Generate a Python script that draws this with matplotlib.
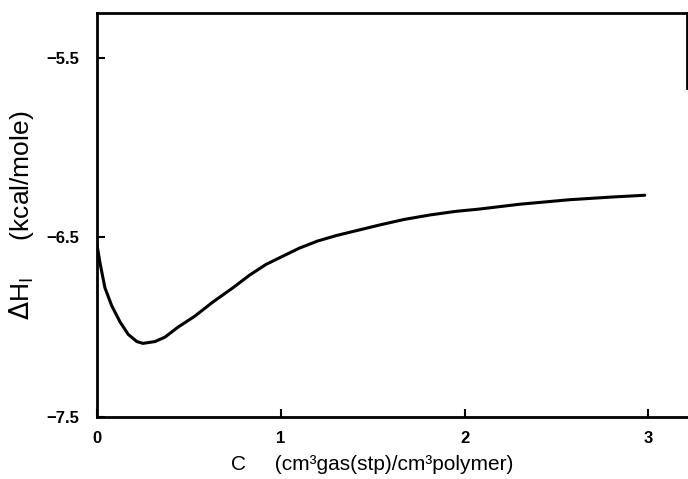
import matplotlib
matplotlib.use("Agg")
import matplotlib.pyplot as plt

# concentration C (cm3 gas(stp)/cm3 polymer) and interaction enthalpy (kcal/mole)
conc = [0.0, 0.016, 0.043, 0.08, 0.125, 0.17, 0.217, 0.25, 0.315, 0.37, 0.44, 0.53,
        0.63, 0.74, 0.83, 0.92, 1.0, 1.10, 1.20, 1.30, 1.42, 1.54, 1.67, 1.81, 1.95,
        2.08, 2.30, 2.57, 2.80, 2.98]
dh = [-6.54, -6.64, -6.78, -6.88, -6.97, -7.04, -7.08, -7.09, -7.08, -7.055, -7.00, -6.94,
      -6.86, -6.78, -6.71, -6.65, -6.61, -6.56, -6.52, -6.49, -6.46, -6.43, -6.40, -6.375,
      -6.355, -6.342, -6.315, -6.29, -6.275, -6.265]

xticks = [0, 1, 2, 3]
yticks = [-7.5, -6.5, -5.5]

plt.rcParams["font.family"] = ["Liberation Sans", "DejaVu Sans"]

fig = plt.figure(figsize=(6.88, 4.79), dpi=100)
ax = fig.add_axes([97 / 688, 62 / 479, 590 / 688, 404 / 479])

ax.plot(conc, dh, color="black", lw=2.2, solid_capstyle="round", solid_joinstyle="round")

ax.set_xlim(0, 3.21)
ax.set_ylim(-7.5, -5.25)
ax.set_xticks(xticks)
ax.set_yticks(yticks)
ax.set_xticklabels([str(t) for t in xticks], fontweight="bold")
ax.set_yticklabels([str(t).replace("-", "\u2212") for t in yticks], fontweight="bold")
ax.tick_params(axis="both", direction="in", length=6, width=1.5, labelsize=12)
ax.tick_params(axis="y", pad=13)
ax.tick_params(axis="x", pad=10)

for s in ax.spines.values():
    s.set_linewidth(2)
ax.spines["right"].set_bounds(-5.67, -5.25)

ax.set_xlabel("C     (cm³gas(stp)/cm³polymer)", fontsize=15)
ax.xaxis.set_label_coords(0.466, -0.095)
ax.set_ylabel(r"$\Delta$H$_\mathregular{I}$     (kcal/mole)", fontsize=19)
ax.yaxis.set_label_coords(-0.103, 0.5)

fig.savefig("out.png", dpi=100)
